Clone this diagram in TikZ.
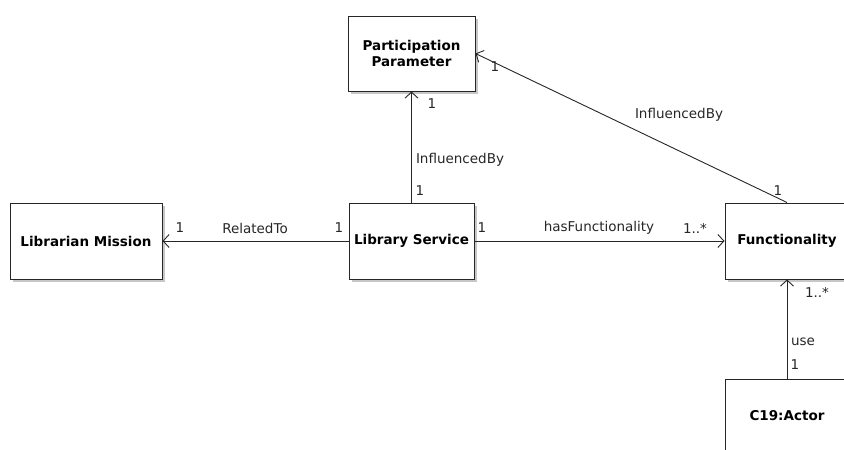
\documentclass[tikz,border=0pt]{standalone}
\usepackage{fontspec}
\setmainfont{DejaVu Sans}
\usetikzlibrary{arrows.meta,shadows}

\begin{document}
\begin{tikzpicture}[x=1pt,y=-1pt,
  classbox/.style={draw=black!85, fill=white, line width=1pt, font=\fontsize{13.5}{16}\selectfont\bfseries, align=center, inner sep=0pt, drop shadow={shadow xshift=3pt, shadow yshift=-3pt, fill=black!22, opacity=1}},
  assoc/.style={draw=black!85, line width=0.9pt, -{Straight Barb[length=6pt,width=13pt,line width=0.9pt]}},
  lbl/.style={font=\fontsize{13.5}{16}\selectfont, text=black!85, inner sep=0pt}]
  \useasboundingbox (0,0) rectangle (844,450);
  \clip (0,0) rectangle (844,450);

  % Classes
  \node[classbox, minimum width=152pt, minimum height=76pt] (mission) at (86,241) {Librarian Mission};
  \node[classbox, minimum width=125pt, minimum height=76pt] (service) at (411.5,241) {Library Service};
  \node[classbox, minimum width=127pt, minimum height=75pt] (param) at (411.5,53.5) {Participation\\Parameter};
  \node[classbox, minimum width=124pt, minimum height=76pt] (func) at (787,241) {Functionality};
  \node[classbox, minimum width=124pt, minimum height=74pt] (actor) at (787,416) {C19:Actor};

  % Associations
  \draw[assoc] (service.west) -- (mission.east);
  \draw[assoc] (service.east) -- (func.west);
  \draw[assoc] (service.north) -- (param.south);
  \draw[assoc] (func.north) -- (param.east);
  \draw[assoc] (actor.north) -- (func.south);

  % Role names and multiplicities
  \node[lbl] (relto) at (255,228) {RelatedTo};
  \node[lbl] (relto1) at (180,228) {1};
  \node[lbl] (relto2) at (339,228) {1};
  \node[lbl] (hasfn) at (599,228) {hasFunctionality};
  \node[lbl] (hasfn1) at (482,228) {1};
  \node[lbl] (hasfn2) at (695,228) {1..*};
  \node[lbl] (infl) at (460,160) {InfluencedBy};
  \node[lbl] (infl1) at (432,104) {1};
  \node[lbl] (infl2) at (420,191) {1};
  \node[lbl] (inflf) at (679,115) {InfluencedBy};
  \node[lbl] (inflf1) at (495,67) {1};
  \node[lbl] (inflf2) at (778,191) {1};
  \node[lbl] (use) at (803,342) {use};
  \node[lbl] (use1) at (817,292) {1..*};
  \node[lbl] (use2) at (795,365) {1};
\end{tikzpicture}
\end{document}
